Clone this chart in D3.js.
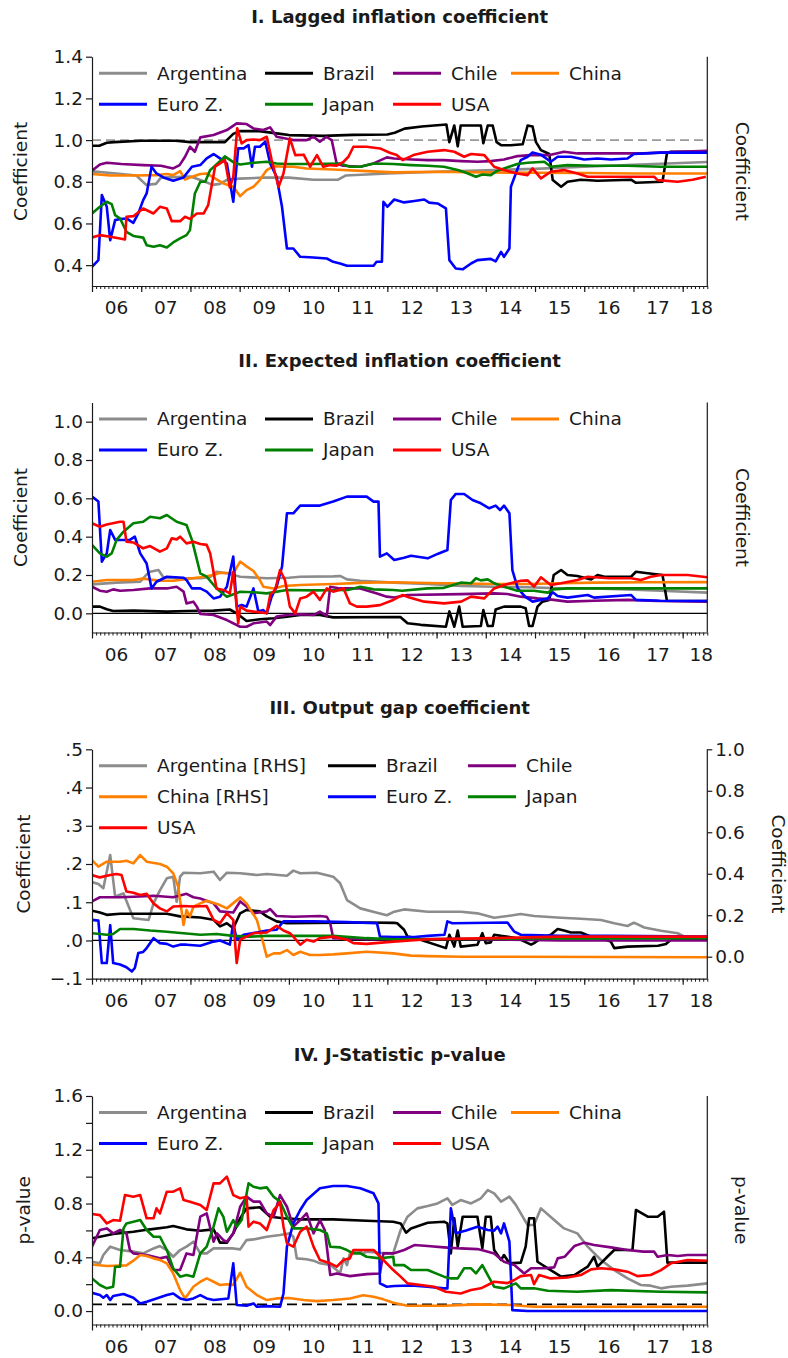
<!DOCTYPE html>
<html>
<head>
<meta charset="utf-8">
<script src="https://cdn.jsdelivr.net/npm/d3@7"></script>
<style>
  body { margin: 0; background: #fff; }
  svg text { font-family: "DejaVu Sans", sans-serif; fill: #1a1a1a; }
</style>
</head>
<body>
<div id="chart"></div>
<script>
// ---------------------------------------------------------
// DATA  (each series: [year, value])
// ---------------------------------------------------------

var countries = ["Argentina", "Brazil", "Chile", "China", "Euro Z.", "Japan", "USA"];
var colors = ["#8c8c8c", "#000000", "#800080", "#ff8000", "#0000ff", "#008000", "#ff0000"];
var yearLabels = ["06", "07", "08", "09", "10", "11", "12", "13", "14", "15", "16", "17", "18"];

// I. Lagged inflation coefficient
var lagArg = [[2006,0.85],[2006.5,0.84],[2006.9,0.83],[2007.1,0.785],[2007.3,0.79],[2007.4,0.82],[2008.0,0.825],[2008.3,0.8],[2008.45,0.785],[2008.6,0.79],[2008.75,0.81],[2009.0,0.815],[2009.5,0.82],[2010.0,0.82],[2010.5,0.81],[2011.0,0.81],[2011.15,0.83],[2012,0.84],[2013,0.848],[2014,0.855],[2015,0.862],[2016,0.872],[2017,0.882],[2018.5,0.895]];
var lagBra = [[2006,0.973],[2006.15,0.973],[2006.3,0.987],[2006.45,0.99],[2007,0.997],[2007.7,0.997],[2008.0,0.99],[2008.7,0.99],[2008.87,1.03],[2009.0,1.043],[2009.4,1.043],[2009.75,1.032],[2010.0,1.024],[2010.7,1.02],[2011.3,1.025],[2012.0,1.027],[2012.15,1.035],[2012.35,1.055],[2012.7,1.065],[2013.2,1.075],[2013.26,0.99],[2013.36,1.07],[2013.43,0.97],[2013.49,1.07],[2013.9,1.07],[2013.95,0.985],[2014.04,1.07],[2014.14,1.07],[2014.22,0.99],[2014.31,0.976],[2014.5,0.975],[2014.75,0.98],[2014.85,1.07],[2014.95,1.065],[2015.02,0.99],[2015.12,0.952],[2015.29,0.933],[2015.36,0.808],[2015.53,0.776],[2015.66,0.8],[2015.93,0.81],[2016.27,0.805],[2016.95,0.81],[2017.05,0.795],[2017.59,0.8],[2017.68,0.936],[2017.76,0.944],[2018.5,0.944]];
var lagChl = [[2006.0,0.853],[2006.16,0.883],[2006.3,0.891],[2006.6,0.885],[2007.04,0.88],[2007.4,0.877],[2007.65,0.864],[2007.78,0.88],[2007.89,0.92],[2007.99,0.968],[2008.09,0.944],[2008.2,1.013],[2008.47,1.024],[2008.74,1.048],[2008.94,1.08],[2009.14,1.077],[2009.28,1.056],[2009.48,1.048],[2009.62,1.061],[2009.75,1.016],[2010.09,1.0],[2010.36,1.0],[2010.5,1.016],[2010.63,0.992],[2010.76,1.016],[2010.87,1.0],[2010.97,0.888],[2011.1,0.877],[2011.45,0.872],[2011.72,0.888],[2011.99,0.917],[2012.14,0.912],[2012.5,0.907],[2012.82,0.904],[2013.15,0.904],[2013.5,0.899],[2013.83,0.896],[2014.1,0.899],[2014.37,0.907],[2014.64,0.923],[2014.92,0.928],[2015.3,0.928],[2015.59,0.944],[2015.86,0.936],[2016.5,0.936],[2017.2,0.936],[2017.9,0.944],[2018.5,0.949]];
var lagChn = [[2006.0,0.837],[2006.37,0.83],[2006.84,0.83],[2007.31,0.832],[2007.52,0.837],[2007.65,0.832],[2007.79,0.851],[2007.89,0.811],[2007.99,0.82],[2008.2,0.837],[2008.33,0.84],[2008.47,0.82],[2008.67,0.792],[2008.87,0.776],[2009.01,0.731],[2009.14,0.76],[2009.28,0.776],[2009.41,0.808],[2009.55,0.856],[2009.69,0.875],[2009.9,0.872],[2010.09,0.872],[2010.36,0.864],[2010.9,0.859],[2011.58,0.851],[2012.12,0.845],[2013,0.848],[2014,0.845],[2015,0.843],[2016,0.842],[2017,0.84],[2018.5,0.84]];
var lagEur = [[2006.0,0.392],[2006.13,0.424],[2006.2,0.736],[2006.3,0.68],[2006.37,0.52],[2006.47,0.616],[2006.57,0.621],[2006.7,0.624],[2006.84,0.603],[2006.94,0.648],[2007.04,0.712],[2007.11,0.744],[2007.21,0.872],[2007.31,0.84],[2007.45,0.821],[2007.65,0.805],[2007.86,0.821],[2008.03,0.872],[2008.2,0.88],[2008.33,0.912],[2008.47,0.933],[2008.6,0.912],[2008.74,0.888],[2008.87,0.704],[2008.97,0.96],[2009.08,0.96],[2009.18,0.976],[2009.25,0.872],[2009.31,0.968],[2009.41,0.968],[2009.52,0.992],[2009.62,0.888],[2009.75,0.824],[2009.86,0.68],[2009.96,0.48],[2010.09,0.48],[2010.23,0.44],[2010.5,0.437],[2010.77,0.432],[2010.9,0.416],[2011.04,0.408],[2011.18,0.397],[2011.72,0.397],[2011.78,0.416],[2011.89,0.416],[2011.92,0.704],[2012.0,0.68],[2012.14,0.715],[2012.34,0.701],[2012.55,0.708],[2012.75,0.715],[2012.85,0.7],[2013.02,0.696],[2013.19,0.672],[2013.26,0.424],[2013.39,0.384],[2013.53,0.38],[2013.7,0.408],[2013.83,0.424],[2014.1,0.43],[2014.2,0.418],[2014.31,0.464],[2014.37,0.44],[2014.48,0.48],[2014.51,0.776],[2014.61,0.84],[2014.71,0.904],[2014.85,0.92],[2014.95,0.941],[2015.12,0.93],[2015.32,0.896],[2015.46,0.92],[2015.73,0.92],[2016.0,0.907],[2016.27,0.912],[2016.54,0.907],[2016.88,0.912],[2017.01,0.933],[2017.55,0.94],[2018.5,0.94]];
var lagJpn = [[2006.0,0.648],[2006.16,0.68],[2006.3,0.704],[2006.4,0.693],[2006.47,0.64],[2006.57,0.624],[2006.7,0.56],[2006.84,0.54],[2007.04,0.532],[2007.11,0.496],[2007.25,0.488],[2007.38,0.496],[2007.52,0.485],[2007.65,0.509],[2007.79,0.528],[2007.92,0.544],[2007.99,0.568],[2008.09,0.744],[2008.2,0.8],[2008.3,0.8],[2008.4,0.856],[2008.6,0.899],[2008.7,0.922],[2008.87,0.894],[2009.01,0.883],[2009.28,0.891],[2009.55,0.896],[2009.75,0.888],[2009.96,0.885],[2010.5,0.885],[2011.04,0.888],[2011.24,0.872],[2011.45,0.872],[2011.72,0.888],[2012.12,0.885],[2012.48,0.88],[2012.82,0.877],[2013.15,0.872],[2013.43,0.856],[2013.6,0.843],[2013.8,0.824],[2013.93,0.835],[2014.1,0.832],[2014.22,0.851],[2014.37,0.864],[2014.64,0.885],[2014.85,0.891],[2015.19,0.896],[2015.32,0.872],[2015.66,0.88],[2016.2,0.877],[2016.88,0.877],[2017.55,0.872],[2018.5,0.872]];
var lagUsa = [[2006.0,0.533],[2006.16,0.544],[2006.37,0.536],[2006.57,0.528],[2006.67,0.523],[2006.7,0.632],[2006.84,0.635],[2007.04,0.672],[2007.25,0.648],[2007.38,0.68],[2007.52,0.672],[2007.62,0.611],[2007.79,0.611],[2007.89,0.632],[2007.99,0.622],[2008.13,0.648],[2008.27,0.648],[2008.36,0.688],[2008.5,0.872],[2008.6,0.888],[2008.7,0.904],[2008.8,0.773],[2008.87,0.824],[2008.95,1.056],[2009.04,0.984],[2009.14,1.0],[2009.28,1.003],[2009.41,1.0],[2009.55,1.016],[2009.65,0.904],[2009.79,0.776],[2009.89,0.84],[2010.02,1.008],[2010.13,0.928],[2010.3,0.93],[2010.43,0.872],[2010.57,0.928],[2010.7,0.872],[2010.84,0.88],[2010.97,0.877],[2011.11,0.896],[2011.21,0.92],[2011.31,0.968],[2011.58,0.968],[2011.85,0.96],[2012.05,0.939],[2012.19,0.928],[2012.31,0.904],[2012.55,0.93],[2012.82,0.944],[2013.15,0.952],[2013.36,0.944],[2013.56,0.92],[2013.7,0.933],[2013.97,0.928],[2014.17,0.872],[2014.37,0.856],[2014.64,0.84],[2014.85,0.832],[2014.95,0.864],[2015.12,0.816],[2015.32,0.848],[2015.59,0.856],[2015.86,0.84],[2016.07,0.824],[2016.9,0.824],[2017.42,0.824],[2017.49,0.808],[2017.9,0.8],[2018.2,0.81],[2018.47,0.824]];

// II. Expected inflation coefficient
var expArg = [[2006.0,0.151],[2006.5,0.16],[2006.98,0.165],[2007.1,0.2],[2007.18,0.217],[2007.35,0.226],[2007.45,0.188],[2007.8,0.183],[2008.2,0.183],[2008.4,0.19],[2008.53,0.217],[2008.74,0.209],[2009.01,0.191],[2009.55,0.183],[2010.0,0.186],[2010.23,0.191],[2010.9,0.193],[2011.04,0.195],[2011.18,0.177],[2011.45,0.17],[2012.12,0.16],[2012.82,0.153],[2013.5,0.143],[2014.17,0.139],[2014.85,0.136],[2015.53,0.13],[2016.2,0.13],[2016.88,0.125],[2017.55,0.118],[2018.5,0.108]];
var expBra = [[2006.0,0.035],[2006.16,0.035],[2006.3,0.021],[2006.43,0.012],[2006.84,0.014],[2007.52,0.009],[2007.92,0.012],[2008.47,0.014],[2008.8,0.02],[2008.94,0.0],[2009.14,-0.04],[2009.41,-0.031],[2009.69,-0.026],[2009.96,-0.017],[2010.23,-0.009],[2010.63,-0.009],[2010.9,-0.021],[2012.14,-0.019],[2012.27,-0.02],[2012.41,-0.052],[2012.68,-0.06],[2013.19,-0.07],[2013.26,0.01],[2013.36,-0.07],[2013.46,0.035],[2013.53,-0.07],[2013.9,-0.066],[2013.95,0.017],[2014.04,-0.066],[2014.14,-0.066],[2014.2,0.02],[2014.37,0.035],[2014.71,0.035],[2014.81,0.026],[2014.88,-0.066],[2014.95,-0.066],[2015.05,0.035],[2015.15,0.061],[2015.29,0.07],[2015.38,0.2],[2015.53,0.226],[2015.66,0.2],[2015.86,0.195],[2016.14,0.177],[2016.27,0.2],[2016.41,0.191],[2016.95,0.191],[2017.05,0.217],[2017.29,0.209],[2017.59,0.2],[2017.68,0.066],[2018.5,0.064]];
var expChl = [[2006.0,0.139],[2006.16,0.118],[2006.3,0.113],[2006.43,0.125],[2006.57,0.118],[2006.84,0.122],[2007.18,0.13],[2007.52,0.13],[2007.72,0.139],[2007.86,0.113],[2007.92,0.052],[2008.06,0.061],[2008.13,0.035],[2008.2,-0.003],[2008.47,-0.009],[2008.74,-0.035],[2009.01,-0.07],[2009.14,-0.07],[2009.28,-0.052],[2009.55,-0.043],[2009.62,-0.061],[2009.75,-0.017],[2009.96,-0.009],[2010.23,-0.005],[2010.5,-0.009],[2010.63,0.009],[2010.77,-0.014],[2010.84,0.139],[2011.04,0.13],[2011.45,0.13],[2011.79,0.104],[2011.99,0.087],[2012.14,0.083],[2012.41,0.096],[2013.49,0.1],[2014.17,0.104],[2014.44,0.101],[2014.71,0.087],[2015.05,0.078],[2015.3,0.073],[2015.66,0.061],[2016.2,0.066],[2016.88,0.07],[2017.5,0.064],[2018.5,0.061]];
var expChn = [[2006.0,0.165],[2006.3,0.174],[2006.84,0.174],[2007.04,0.181],[2007.38,0.17],[2007.65,0.17],[2007.86,0.177],[2008.2,0.188],[2008.47,0.2],[2008.6,0.212],[2008.87,0.209],[2009.01,0.27],[2009.14,0.245],[2009.28,0.221],[2009.41,0.174],[2009.48,0.139],[2009.69,0.13],[2009.89,0.143],[2010.23,0.148],[2010.9,0.153],[2011.58,0.16],[2012.12,0.162],[2012.82,0.158],[2013.5,0.156],[2014.17,0.153],[2014.85,0.153],[2015.53,0.157],[2016.2,0.16],[2017.2,0.162],[2018.5,0.163]];
var expEur = [[2006.0,0.609],[2006.13,0.583],[2006.2,0.27],[2006.3,0.313],[2006.37,0.435],[2006.47,0.383],[2006.77,0.383],[2006.87,0.4],[2006.98,0.313],[2007.11,0.26],[2007.21,0.13],[2007.31,0.165],[2007.52,0.191],[2007.86,0.186],[2007.92,0.174],[2008.03,0.13],[2008.2,0.13],[2008.33,0.113],[2008.47,0.078],[2008.6,0.087],[2008.74,0.139],[2008.87,0.296],[2008.94,0.035],[2009.04,0.043],[2009.14,0.035],[2009.28,0.13],[2009.38,0.009],[2009.48,0.017],[2009.55,0.0],[2009.65,0.087],[2009.75,0.139],[2009.86,0.243],[2009.96,0.522],[2010.09,0.522],[2010.23,0.562],[2010.63,0.562],[2010.9,0.583],[2011.18,0.609],[2011.58,0.609],[2011.72,0.583],[2011.82,0.583],[2011.85,0.296],[2011.99,0.313],[2012.14,0.278],[2012.34,0.29],[2012.48,0.3],[2012.82,0.287],[2013.02,0.31],[2013.22,0.33],[2013.29,0.591],[2013.39,0.623],[2013.56,0.623],[2013.73,0.591],[2013.9,0.574],[2014.07,0.548],[2014.2,0.562],[2014.29,0.539],[2014.37,0.562],[2014.48,0.522],[2014.54,0.226],[2014.65,0.13],[2014.8,0.087],[2014.95,0.061],[2015.26,0.078],[2015.36,0.11],[2015.46,0.09],[2015.66,0.082],[2016.07,0.096],[2016.2,0.082],[2016.95,0.096],[2017.05,0.07],[2017.55,0.066],[2018.5,0.064]];
var expJpn = [[2006.0,0.357],[2006.16,0.313],[2006.3,0.296],[2006.4,0.313],[2006.5,0.383],[2006.64,0.426],[2006.84,0.47],[2007.04,0.478],[2007.18,0.504],[2007.38,0.496],[2007.52,0.513],[2007.72,0.478],[2007.92,0.461],[2008.03,0.383],[2008.2,0.209],[2008.33,0.191],[2008.53,0.13],[2008.74,0.087],[2009.01,0.113],[2009.28,0.11],[2009.55,0.104],[2009.96,0.122],[2010.5,0.12],[2011.2,0.122],[2011.45,0.139],[2011.72,0.125],[2012.12,0.122],[2012.3,0.118],[2012.82,0.13],[2013.15,0.133],[2013.49,0.16],[2013.7,0.157],[2013.8,0.183],[2013.9,0.172],[2014.04,0.177],[2014.17,0.157],[2014.37,0.139],[2014.64,0.118],[2014.98,0.118],[2015.26,0.108],[2015.36,0.125],[2015.66,0.13],[2016.88,0.13],[2018.5,0.13]];
var expUsa = [[2006.0,0.47],[2006.16,0.452],[2006.3,0.464],[2006.57,0.478],[2006.64,0.478],[2006.7,0.374],[2006.84,0.37],[2007.04,0.339],[2007.18,0.351],[2007.38,0.322],[2007.52,0.339],[2007.62,0.391],[2007.72,0.386],[2007.79,0.4],[2007.92,0.365],[2008.06,0.374],[2008.2,0.362],[2008.33,0.357],[2008.4,0.313],[2008.53,0.13],[2008.67,0.122],[2008.8,0.104],[2008.87,0.217],[2008.97,-0.052],[2009.01,0.035],[2009.14,0.014],[2009.28,0.009],[2009.55,0.0],[2009.62,0.096],[2009.72,0.122],[2009.82,0.226],[2009.92,0.174],[2010.02,0.035],[2010.13,0.0],[2010.23,0.078],[2010.36,0.087],[2010.5,0.113],[2010.63,0.07],[2010.77,0.13],[2010.9,0.113],[2011.11,0.13],[2011.24,0.052],[2011.38,0.035],[2011.58,0.035],[2011.85,0.043],[2012.12,0.07],[2012.31,0.096],[2012.45,0.083],[2012.75,0.061],[2013.15,0.052],[2013.5,0.061],[2013.7,0.087],[2013.97,0.078],[2014.17,0.13],[2014.37,0.148],[2014.71,0.17],[2014.85,0.172],[2014.98,0.139],[2015.12,0.188],[2015.32,0.148],[2015.53,0.157],[2015.86,0.174],[2016.07,0.191],[2016.5,0.183],[2016.95,0.183],[2017.15,0.174],[2017.35,0.191],[2017.56,0.2],[2018.1,0.2],[2018.5,0.188]];

// III. Output gap coefficient (Argentina and China on the right-hand scale)
var gapArg = [[2006.0,0.36],[2006.13,0.35],[2006.23,0.33],[2006.37,0.49],[2006.47,0.29],[2006.64,0.305],[2006.84,0.185],[2007.15,0.177],[2007.25,0.257],[2007.38,0.32],[2007.52,0.378],[2007.65,0.386],[2007.72,0.265],[2007.79,0.386],[2007.86,0.405],[2008.2,0.402],[2008.47,0.41],[2008.6,0.37],[2008.74,0.405],[2009.01,0.402],[2009.35,0.394],[2009.55,0.399],[2009.96,0.39],[2010.09,0.415],[2010.23,0.402],[2010.57,0.405],[2010.9,0.386],[2011.04,0.354],[2011.18,0.273],[2011.45,0.233],[2011.79,0.212],[2011.99,0.2],[2012.14,0.217],[2012.34,0.228],[2012.82,0.217],[2013.5,0.217],[2013.83,0.209],[2014.17,0.188],[2014.44,0.196],[2014.71,0.206],[2014.98,0.196],[2015.53,0.188],[2015.93,0.183],[2016.34,0.177],[2016.61,0.161],[2016.88,0.148],[2017.01,0.164],[2017.22,0.141],[2017.56,0.125],[2017.9,0.113],[2018.1,0.088],[2018.5,0.088]];
var gapBra = [[2006.0,0.078],[2006.16,0.073],[2006.3,0.067],[2006.57,0.07],[2007.52,0.07],[2007.79,0.063],[2008.2,0.06],[2008.47,0.054],[2008.6,0.037],[2008.74,0.045],[2008.87,0.032],[2009.01,0.071],[2009.14,0.08],[2009.41,0.076],[2009.55,0.063],[2009.75,0.05],[2009.96,0.045],[2011.58,0.047],[2012.14,0.046],[2012.2,0.045],[2012.34,0.028],[2012.41,0.01],[2012.55,0.007],[2013.19,-0.02],[2013.26,0.015],[2013.36,-0.016],[2013.43,0.026],[2013.49,-0.016],[2013.83,-0.011],[2013.93,0.019],[2014.0,-0.007],[2014.1,-0.005],[2014.17,0.015],[2014.31,0.012],[2014.64,0.006],[2014.92,-0.011],[2014.98,-0.007],[2015.12,0.006],[2015.32,0.015],[2015.46,0.03],[2015.59,0.026],[2015.73,0.021],[2015.93,0.021],[2016.14,0.01],[2016.34,0.006],[2016.54,-0.003],[2016.61,-0.02],[2016.88,-0.016],[2017.5,-0.014],[2017.66,-0.009],[2017.76,0.002],[2018.5,0.002]];
var gapChl = [[2006.0,0.102],[2006.16,0.113],[2006.57,0.113],[2006.98,0.115],[2007.25,0.117],[2007.65,0.113],[2007.92,0.122],[2008.06,0.113],[2008.2,0.11],[2008.47,0.097],[2008.6,0.076],[2008.87,0.073],[2009.01,0.102],[2009.14,0.089],[2009.28,0.071],[2009.55,0.076],[2009.62,0.082],[2009.75,0.064],[2010.09,0.062],[2010.63,0.064],[2010.77,0.062],[2010.84,0.045],[2010.9,0.006],[2011.58,0.003],[2012.12,0.003],[2013.5,0.004],[2014.5,0.002],[2015.5,0.0],[2016.5,0.0],[2018.5,0.0]];
var gapChn = [[2006.0,0.466],[2006.13,0.434],[2006.3,0.458],[2006.57,0.458],[2006.7,0.463],[2006.84,0.45],[2006.98,0.49],[2007.11,0.458],[2007.38,0.447],[2007.52,0.434],[2007.65,0.402],[2007.75,0.338],[2007.86,0.153],[2007.92,0.225],[2007.99,0.193],[2008.06,0.241],[2008.2,0.257],[2008.33,0.27],[2008.6,0.249],[2008.74,0.233],[2009.01,0.286],[2009.14,0.257],[2009.35,0.177],[2009.48,0.064],[2009.55,0.0],[2009.69,0.016],[2009.82,0.016],[2009.96,0.032],[2010.09,0.008],[2010.23,0.024],[2010.43,0.008],[2010.63,0.008],[2010.9,0.011],[2011.18,0.016],[2011.58,0.024],[2012.12,0.016],[2012.48,0.005],[2012.82,0.003],[2013.5,0.0],[2018.5,-0.003]];
var gapEur = [[2006.0,0.054],[2006.13,0.052],[2006.2,-0.059],[2006.3,-0.059],[2006.37,0.04],[2006.43,-0.059],[2006.57,-0.063],[2006.7,-0.07],[2006.81,-0.081],[2006.87,-0.072],[2006.94,-0.033],[2007.04,-0.03],[2007.11,-0.02],[2007.25,0.006],[2007.38,-0.007],[2007.52,-0.009],[2007.65,-0.016],[2007.79,-0.011],[2007.92,-0.011],[2008.2,-0.014],[2008.47,-0.003],[2008.6,0.0],[2008.8,-0.011],[2008.87,0.045],[2008.94,0.002],[2009.08,0.015],[2009.35,0.021],[2009.55,0.026],[2009.75,0.028],[2009.89,0.05],[2010.5,0.05],[2011.18,0.048],[2011.79,0.045],[2011.85,0.01],[2012.12,0.009],[2012.55,0.009],[2012.82,0.012],[2013.16,0.015],[2013.22,0.05],[2013.32,0.045],[2014.44,0.047],[2014.58,0.023],[2014.71,0.015],[2015.5,0.012],[2016.5,0.012],[2018.5,0.01]];
var gapJpn = [[2006.0,0.019],[2006.16,0.017],[2006.3,0.015],[2006.43,0.017],[2006.57,0.03],[2006.84,0.03],[2007.18,0.026],[2007.52,0.023],[2007.86,0.019],[2008.2,0.015],[2008.53,0.017],[2008.87,0.012],[2009.2,0.01],[2009.55,0.012],[2010.2,0.012],[2010.9,0.012],[2011.58,0.006],[2012.12,0.003],[2013.5,0.004],[2015,0.005],[2016.5,0.005],[2018.5,0.006]];
var gapUsa = [[2006.0,0.171],[2006.16,0.165],[2006.37,0.171],[2006.5,0.174],[2006.6,0.171],[2006.7,0.128],[2006.84,0.125],[2006.98,0.119],[2007.11,0.122],[2007.25,0.097],[2007.38,0.084],[2007.52,0.076],[2007.65,0.089],[2007.86,0.09],[2008.06,0.089],[2008.33,0.09],[2008.47,0.054],[2008.6,0.045],[2008.74,0.071],[2008.87,0.054],[2008.94,-0.059],[2009.01,0.002],[2009.14,0.01],[2009.28,0.019],[2009.55,0.021],[2009.75,0.038],[2009.89,0.026],[2010.02,0.019],[2010.09,0.01],[2010.23,-0.011],[2010.36,0.002],[2010.5,-0.003],[2010.63,0.006],[2010.9,0.01],[2011.18,0.002],[2011.31,-0.007],[2011.58,-0.009],[2012.12,-0.003],[2012.82,0.003],[2014.17,0.006],[2015.53,0.01],[2018.5,0.01]];

// IV. J-Statistic p-value
var jArg = [[2006.0,0.367],[2006.16,0.355],[2006.23,0.417],[2006.37,0.479],[2006.57,0.454],[2006.84,0.442],[2007.04,0.429],[2007.25,0.466],[2007.38,0.484],[2007.52,0.454],[2007.65,0.404],[2007.79,0.454],[2007.92,0.479],[2008.06,0.516],[2008.2,0.429],[2008.33,0.429],[2008.47,0.466],[2008.87,0.466],[2009.01,0.459],[2009.14,0.528],[2009.28,0.533],[2009.55,0.553],[2009.82,0.566],[2010.02,0.578],[2010.09,0.553],[2010.16,0.392],[2010.36,0.385],[2010.5,0.375],[2010.63,0.355],[2010.84,0.342],[2010.97,0.305],[2011.04,0.28],[2011.11,0.392],[2011.18,0.342],[2011.24,0.429],[2011.38,0.454],[2011.51,0.43],[2011.58,0.442],[2011.85,0.434],[2012.12,0.429],[2012.14,0.454],[2012.27,0.603],[2012.41,0.702],[2012.61,0.764],[2012.82,0.781],[2013.02,0.801],[2013.22,0.839],[2013.32,0.79],[2013.49,0.826],[2013.7,0.801],[2013.9,0.839],[2014.04,0.9],[2014.17,0.875],[2014.31,0.814],[2014.48,0.851],[2014.61,0.79],[2014.85,0.64],[2014.98,0.64],[2015.12,0.764],[2015.39,0.677],[2015.59,0.615],[2015.86,0.578],[2016.07,0.479],[2016.34,0.38],[2016.61,0.305],[2016.88,0.243],[2017.15,0.194],[2017.35,0.189],[2017.56,0.169],[2017.76,0.181],[2018.1,0.189],[2018.5,0.206]];
var jBra = [[2006.0,0.541],[2006.16,0.553],[2006.43,0.573],[2006.84,0.59],[2007.18,0.608],[2007.52,0.623],[2007.65,0.633],[2007.92,0.608],[2008.2,0.598],[2008.47,0.608],[2008.6,0.509],[2008.74,0.509],[2008.87,0.578],[2009.01,0.69],[2009.14,0.764],[2009.41,0.772],[2009.62,0.702],[2009.89,0.69],[2010.23,0.682],[2010.9,0.682],[2011.58,0.672],[2012.12,0.665],[2012.27,0.652],[2012.38,0.583],[2012.48,0.615],[2012.82,0.657],[2013.15,0.665],[2013.22,0.652],[2013.29,0.429],[2013.36,0.69],[2013.43,0.479],[2013.53,0.702],[2013.83,0.702],[2013.93,0.466],[2014.0,0.702],[2014.1,0.702],[2014.17,0.454],[2014.24,0.417],[2014.31,0.38],[2014.37,0.417],[2014.48,0.355],[2014.71,0.36],[2014.81,0.479],[2014.88,0.69],[2014.98,0.69],[2015.05,0.367],[2015.26,0.318],[2015.53,0.256],[2015.8,0.268],[2016.07,0.33],[2016.2,0.404],[2016.27,0.33],[2016.47,0.404],[2016.61,0.454],[2016.98,0.454],[2017.05,0.752],[2017.29,0.702],[2017.49,0.702],[2017.62,0.739],[2017.69,0.36],[2018.5,0.36]];
var jChl = [[2006.0,0.479],[2006.16,0.603],[2006.3,0.615],[2006.43,0.578],[2006.57,0.603],[2006.7,0.578],[2006.77,0.454],[2006.84,0.429],[2007.11,0.417],[2007.38,0.392],[2007.52,0.404],[2007.65,0.305],[2007.79,0.305],[2007.92,0.429],[2008.06,0.417],[2008.2,0.702],[2008.33,0.727],[2008.47,0.516],[2008.54,0.578],[2008.67,0.528],[2008.74,0.516],[2008.87,0.578],[2009.01,0.776],[2009.14,0.851],[2009.28,0.814],[2009.41,0.814],[2009.55,0.727],[2009.69,0.702],[2009.82,0.863],[2009.96,0.776],[2010.09,0.628],[2010.23,0.677],[2010.36,0.727],[2010.5,0.578],[2010.63,0.677],[2010.73,0.6],[2010.84,0.268],[2010.97,0.28],[2011.24,0.26],[2011.58,0.275],[2011.85,0.28],[2011.92,0.429],[2012.12,0.429],[2012.34,0.454],[2012.55,0.491],[2012.82,0.484],[2013.15,0.474],[2013.49,0.466],[2013.83,0.461],[2013.97,0.449],[2014.17,0.429],[2014.37,0.367],[2014.58,0.342],[2014.78,0.28],[2014.92,0.318],[2015.2,0.318],[2015.39,0.325],[2015.46,0.392],[2015.6,0.404],[2015.8,0.484],[2016.0,0.509],[2016.2,0.491],[2016.54,0.474],[2016.88,0.454],[2017.2,0.442],[2017.42,0.442],[2017.49,0.404],[2017.7,0.417],[2017.9,0.41],[2018.1,0.417],[2018.5,0.417]];
var jChn = [[2006.0,0.347],[2006.3,0.335],[2006.7,0.34],[2006.84,0.375],[2006.98,0.417],[2007.11,0.41],[2007.25,0.392],[2007.38,0.38],[2007.52,0.355],[2007.65,0.28],[2007.79,0.156],[2007.89,0.094],[2008.06,0.181],[2008.2,0.218],[2008.33,0.243],[2008.47,0.218],[2008.6,0.194],[2008.74,0.2],[2008.87,0.194],[2009.01,0.285],[2009.14,0.181],[2009.35,0.119],[2009.55,0.082],[2009.75,0.094],[2010.0,0.097],[2010.3,0.082],[2010.57,0.074],[2010.9,0.082],[2011.24,0.094],[2011.51,0.117],[2011.72,0.107],[2011.92,0.087],[2012.12,0.062],[2012.41,0.04],[2013.15,0.04],[2013.83,0.05],[2014.5,0.045],[2014.98,0.032],[2018.5,0.032]];
var jEur = [[2006.0,0.136],[2006.16,0.119],[2006.23,0.099],[2006.3,0.119],[2006.37,0.082],[2006.43,0.112],[2006.64,0.127],[2006.84,0.099],[2006.98,0.057],[2007.11,0.069],[2007.31,0.094],[2007.52,0.119],[2007.65,0.131],[2007.79,0.094],[2007.92,0.082],[2008.06,0.094],[2008.2,0.119],[2008.33,0.094],[2008.47,0.082],[2008.77,0.094],[2008.87,0.355],[2008.94,0.045],[2009.14,0.04],[2009.28,0.057],[2009.35,0.032],[2009.55,0.037],[2009.82,0.032],[2009.89,0.131],[2009.96,0.479],[2010.09,0.652],[2010.23,0.752],[2010.36,0.826],[2010.63,0.913],[2010.9,0.93],[2011.18,0.93],[2011.45,0.913],[2011.72,0.876],[2011.82,0.801],[2011.85,0.206],[2011.99,0.181],[2012.14,0.186],[2012.48,0.19],[2012.82,0.181],[2013.15,0.169],[2013.22,0.169],[2013.29,0.764],[2013.39,0.578],[2013.6,0.6],[2013.83,0.628],[2014.04,0.603],[2014.17,0.598],[2014.24,0.628],[2014.31,0.578],[2014.37,0.652],[2014.48,0.516],[2014.54,0.007],[2014.85,0.0],[2018.5,0.0]];
var jJpn = [[2006.0,0.243],[2006.16,0.194],[2006.3,0.169],[2006.43,0.181],[2006.47,0.33],[2006.57,0.33],[2006.64,0.615],[2006.7,0.652],[2006.84,0.665],[2006.98,0.677],[2007.11,0.603],[2007.25,0.553],[2007.38,0.553],[2007.52,0.454],[2007.65,0.318],[2007.79,0.256],[2007.92,0.268],[2008.06,0.256],[2008.2,0.429],[2008.33,0.479],[2008.47,0.628],[2008.57,0.764],[2008.67,0.7],[2008.74,0.59],[2008.87,0.677],[2008.94,0.628],[2009.04,0.677],[2009.18,0.95],[2009.28,0.925],[2009.41,0.913],[2009.55,0.92],[2009.69,0.851],[2009.82,0.814],[2009.96,0.702],[2010.09,0.615],[2010.36,0.615],[2010.63,0.603],[2010.77,0.578],[2010.84,0.479],[2011.04,0.474],[2011.18,0.454],[2011.31,0.429],[2011.45,0.429],[2011.58,0.404],[2011.85,0.392],[2012.12,0.404],[2012.14,0.342],[2012.34,0.342],[2012.48,0.305],[2012.82,0.305],[2013.15,0.256],[2013.29,0.243],[2013.43,0.243],[2013.56,0.318],[2013.7,0.318],[2013.8,0.28],[2013.93,0.342],[2014.04,0.268],[2014.17,0.181],[2014.37,0.169],[2014.61,0.206],[2014.71,0.169],[2014.98,0.169],[2015.26,0.151],[2015.86,0.144],[2016.54,0.156],[2017.55,0.144],[2018.5,0.139]];
var jUsa = [[2006.0,0.722],[2006.16,0.714],[2006.3,0.652],[2006.43,0.677],[2006.57,0.672],[2006.67,0.863],[2006.84,0.851],[2006.98,0.863],[2007.11,0.69],[2007.25,0.69],[2007.31,0.764],[2007.38,0.727],[2007.52,0.888],[2007.65,0.888],[2007.79,0.913],[2007.86,0.826],[2007.99,0.814],[2008.2,0.789],[2008.33,0.752],[2008.47,0.95],[2008.6,0.95],[2008.74,1.0],[2008.87,0.863],[2009.01,0.839],[2009.14,0.851],[2009.18,0.628],[2009.28,0.665],[2009.41,0.652],[2009.55,0.603],[2009.69,0.752],[2009.75,0.776],[2009.82,0.814],[2009.89,0.628],[2009.96,0.504],[2010.09,0.479],[2010.23,0.59],[2010.36,0.628],[2010.5,0.479],[2010.63,0.38],[2010.84,0.355],[2010.97,0.33],[2011.11,0.38],[2011.24,0.392],[2011.31,0.454],[2011.72,0.454],[2011.92,0.38],[2012.12,0.305],[2012.27,0.256],[2012.41,0.206],[2012.68,0.194],[2012.95,0.181],[2013.19,0.144],[2013.49,0.131],[2013.7,0.156],[2013.9,0.169],[2014.17,0.218],[2014.44,0.208],[2014.58,0.231],[2014.71,0.26],[2014.92,0.268],[2014.98,0.201],[2015.08,0.268],[2015.32,0.243],[2015.66,0.25],[2015.93,0.268],[2016.14,0.31],[2016.34,0.318],[2016.61,0.31],[2016.88,0.293],[2017.08,0.26],[2017.35,0.268],[2017.56,0.305],[2017.76,0.355],[2018.1,0.38],[2018.5,0.374]];

// ---------------------------------------------------------
// SET UP
// ---------------------------------------------------------

var svgWidth = 788;
var svgHeight = 1358;
var xLeft = 92, xRight = 707.3;

var svg = d3.select("#chart")
  .append("svg")
  .attr("width", svgWidth)
  .attr("height", svgHeight);

var x = d3.scaleLinear().domain([2006, 2018.5]).range([xLeft, xRight]);

var fmt1 = d3.format(".1f");
var fmtDot = function(d) { return fmt1(d).replace("0.", "."); };

var panels = [
  {
    title: "I. Lagged inflation coefficient", titleY: 22.5,
    top: 56.7, bottom: 286, domain: [0.3, 1.4],
    ticks: [0.4, 0.6, 0.8, 1.0, 1.2, 1.4], minor: [], fmt: fmt1,
    label: "Coefficient", labelL: 21, labelR: 742,
    series: [lagArg, lagBra, lagChl, lagChn, lagEur, lagJpn, lagUsa],
    names: countries, colX: [99, 265, 393, 511],
    ref: { v: 1.0, color: "#999999", dash: "9,5" }
  },
  {
    title: "II. Expected inflation coefficient", titleY: 367.3,
    top: 402.5, bottom: 632.5, domain: [-0.1, 1.1],
    ticks: [0.0, 0.2, 0.4, 0.6, 0.8, 1.0], minor: [], fmt: fmt1,
    label: "Coefficient", labelL: 21, labelR: 742,
    series: [expArg, expBra, expChl, expChn, expEur, expJpn, expUsa],
    names: countries, colX: [99, 265, 393, 511],
    ref: { v: 0.0, color: "#000000", dash: null }
  },
  {
    title: "III. Output gap coefficient", titleY: 714,
    top: 749.3, bottom: 978.7, domain: [-0.1, 0.5],
    ticks: [-0.1, 0.0, 0.1, 0.2, 0.3, 0.4, 0.5], minor: [], fmt: fmtDot,
    label: "Coefficient", labelL: 24, labelR: 778,
    series: [gapArg, gapBra, gapChl, gapChn, gapEur, gapJpn, gapUsa],
    rhs: [true, false, false, true, false, false, false],
    names: ["Argentina [RHS]", "Brazil", "Chile", "China [RHS]", "Euro Z.", "Japan", "USA"],
    colX: [99, 328, 468],
    right: { y0: 956.7, y1: 749.3, ticks: [0.0, 0.2, 0.4, 0.6, 0.8, 1.0] },
    ref: { v: 0.0, color: "#000000", dash: null }
  },
  {
    title: "IV. J-Statistic p-value", titleY: 1060.7,
    top: 1096, bottom: 1324.5, domain: [-0.1, 1.6],
    ticks: [0.0, 0.4, 0.8, 1.2, 1.6], minor: [0.2, 0.6, 1.0, 1.4], fmt: fmt1,
    label: "p-value", labelL: 24, labelR: 741,
    series: [jArg, jBra, jChl, jChn, jEur, jJpn, jUsa],
    names: countries, colX: [99, 265, 393, 511],
    ref: { v: 0.05, color: "#000000", dash: "10,5" }
  }
];

// monthly minor ticks and yearly major ticks on the time axis
var months = d3.range(0, 12 * 12.5 + 1).map(function(i) { return 2006 + i / 12; });
var years = d3.range(2006, 2019);

// ---------------------------------------------------------
// DRAW EACH PANEL
// ---------------------------------------------------------

panels.forEach(function(p, pi) {

  var y = d3.scaleLinear().domain(p.domain).range([p.bottom, p.top]);
  var yR = p.right ? d3.scaleLinear().domain([0, 1]).range([p.right.y0, p.right.y1]) : null;
  var g = svg.append("g");

  // title
  g.append("text")
    .attr("x", (xLeft + xRight) / 2)
    .attr("y", p.titleY)
    .attr("text-anchor", "middle")
    .attr("font-weight", "bold")
    .attr("font-size", "18px")
    .text(p.title);

  // reference line
  g.append("line")
    .attr("x1", xLeft).attr("x2", xRight)
    .attr("y1", y(p.ref.v)).attr("y2", y(p.ref.v))
    .attr("stroke", p.ref.color)
    .attr("stroke-width", p.ref.dash ? 1.6 : 1.3)
    .attr("stroke-dasharray", p.ref.dash);

  // clip
  svg.append("clipPath").attr("id", "clip" + pi)
    .append("rect")
    .attr("x", xLeft).attr("y", p.top)
    .attr("width", xRight - xLeft).attr("height", p.bottom - p.top);

  // series lines
  p.series.forEach(function(s, i) {
    var ys = (p.rhs && p.rhs[i]) ? yR : y;
    var line = d3.line()
      .x(function(d) { return x(d[0]); })
      .y(function(d) { return ys(d[1]); });
    g.append("path")
      .datum(s)
      .attr("d", line)
      .attr("clip-path", "url(#clip" + pi + ")")
      .attr("fill", "none")
      .attr("stroke", colors[i])
      .attr("stroke-width", 2.6)
      .attr("stroke-linejoin", "round");
  });

  // left axis
  var leftAxis = d3.axisLeft(y)
    .tickValues(p.ticks.concat(p.minor))
    .tickSize(6)
    .tickSizeOuter(0)
    .tickFormat(function(d) { return p.minor.indexOf(d) >= 0 ? "" : p.fmt(d); });
  var la = g.append("g")
    .attr("transform", "translate(" + xLeft + ",0)")
    .call(leftAxis);
  la.selectAll("text").attr("font-size", "18.5px").attr("font-family", "DejaVu Sans").attr("fill", "#1a1a1a");
  la.selectAll("line, path").attr("stroke", "#1a1a1a").attr("stroke-width", 1.2);

  // right axis line (and ticks in panel III)
  g.append("line")
    .attr("x1", xRight).attr("x2", xRight)
    .attr("y1", p.top).attr("y2", p.bottom)
    .attr("stroke", "#1a1a1a").attr("stroke-width", 1.2);
  if (p.right) {
    var rightAxis = d3.axisRight(yR)
      .tickValues(p.right.ticks)
      .tickSize(5)
      .tickSizeOuter(0)
      .tickFormat(fmt1);
    var ra = g.append("g")
      .attr("transform", "translate(" + xRight + ",0)")
      .call(rightAxis);
    ra.select(".domain").remove();
    ra.selectAll("text").attr("font-size", "18.5px").attr("font-family", "DejaVu Sans").attr("fill", "#1a1a1a");
    ra.selectAll("line").attr("stroke", "#1a1a1a").attr("stroke-width", 1.2);
  }

  // bottom axis: monthly minor ticks, yearly major ticks
  var minorAxis = d3.axisBottom(x).tickValues(months).tickSize(3).tickSizeOuter(0).tickFormat("");
  var ma = g.append("g").attr("transform", "translate(0," + p.bottom + ")").call(minorAxis);
  ma.selectAll("line, path").attr("stroke", "#1a1a1a").attr("stroke-width", 1);
  ma.select(".domain").attr("stroke-width", 1.2);
  var majorAxis = d3.axisBottom(x).tickValues(years).tickSize(6).tickSizeOuter(0).tickFormat("");
  var mj = g.append("g").attr("transform", "translate(0," + p.bottom + ")").call(majorAxis);
  mj.select(".domain").remove();
  mj.selectAll("line").attr("stroke", "#1a1a1a").attr("stroke-width", 1.2);

  // year labels centred on each year
  g.selectAll(".yl")
    .data(yearLabels)
    .enter()
    .append("text")
    .attr("x", function(d, i) { return Math.min(x(2006 + i + 0.5), xRight - 6); })
    .attr("y", p.bottom + 28)
    .attr("text-anchor", "middle")
    .attr("font-size", "18.5px")
    .text(function(d) { return d; });

  // axis titles
  g.append("text")
    .attr("transform", "translate(" + p.labelL + "," + (p.top + p.bottom) / 2 + ") rotate(-90)")
    .attr("text-anchor", "middle")
    .attr("dy", "0.35em")
    .attr("font-size", "18.5px")
    .text(p.label);
  g.append("text")
    .attr("transform", "translate(" + p.labelR + "," + (p.top + p.bottom) / 2 + ") rotate(90)")
    .attr("text-anchor", "middle")
    .attr("dy", "0.35em")
    .attr("font-size", "18.5px")
    .text(p.label);

  // legend, row by row
  var ncol = p.colX.length;
  p.names.forEach(function(name, i) {
    var cx = p.colX[i % ncol];
    var cy = p.top + 16.5 + Math.floor(i / ncol) * 31;
    g.append("line")
      .attr("x1", cx).attr("x2", cx + 48)
      .attr("y1", cy).attr("y2", cy)
      .attr("stroke", colors[i])
      .attr("stroke-width", 3);
    g.append("text")
      .attr("x", cx + 58)
      .attr("y", cy)
      .attr("dy", "0.35em")
      .attr("font-size", "18.5px")
      .text(name);
  });
});
</script>
</body>
</html>
